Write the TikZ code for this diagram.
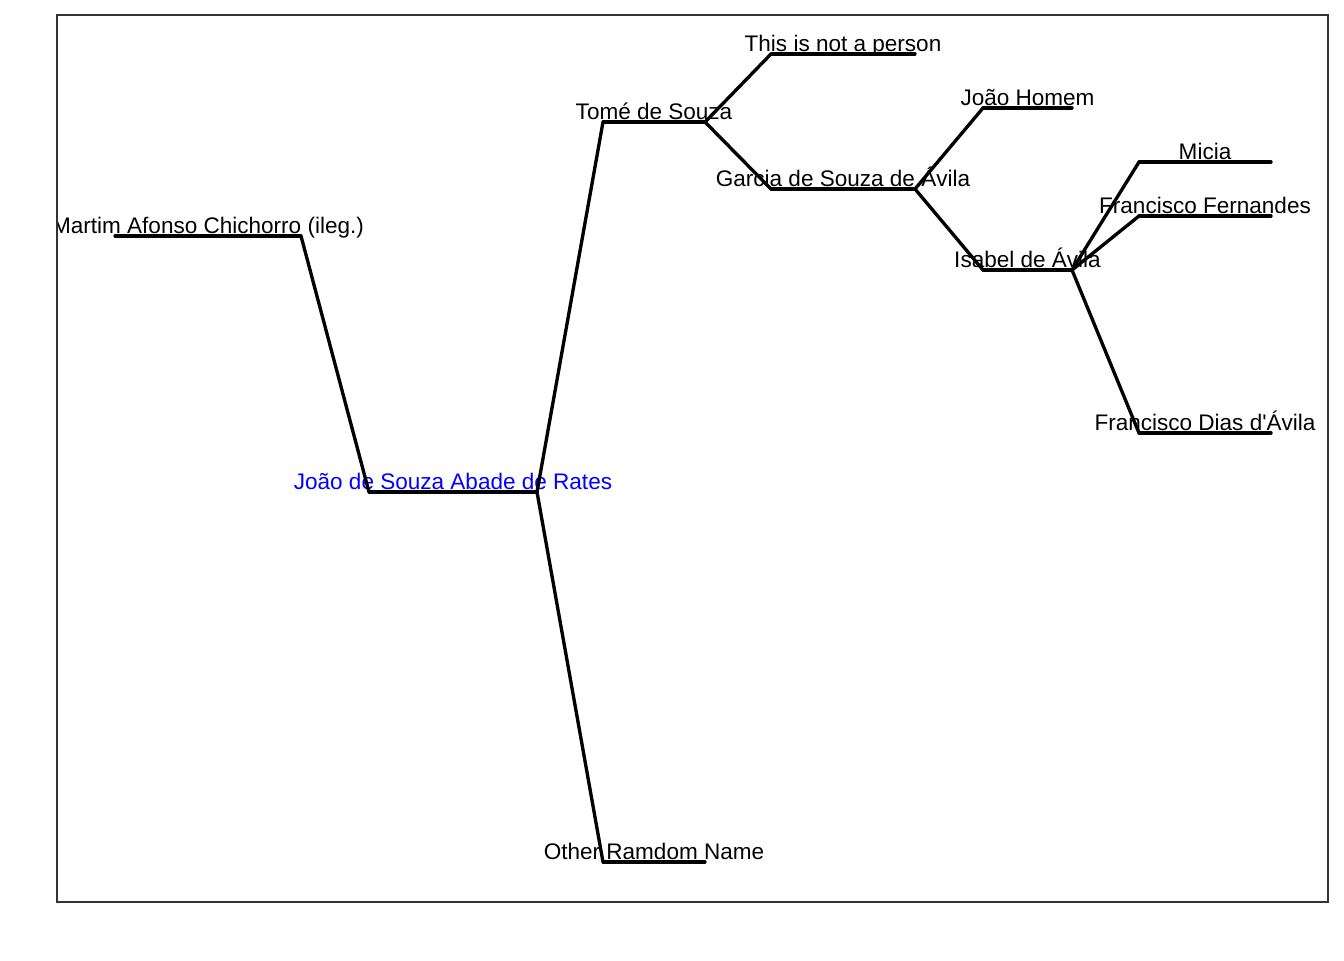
\documentclass[tikz,border=0pt]{standalone}
\usepackage{fontspec}
\setmainfont{Liberation Sans}[Ligatures=TeXOff]
\tikzset{
  bar/.style={line width=2.5pt, line cap=round},
  link/.style={line width=2.5pt},
  famlabel/.style={anchor=base, inner sep=0pt, font=\fontsize{16.9}{20}\selectfont}
}
% one member: id, left x, right x, y, label, colour
\newcommand{\member}[6]{
  \coordinate (#1L) at (#2,#4);
  \coordinate (#1R) at (#3,#4);
  \node[famlabel, text=#6] (#1) at ({(#2+#3)/2},#4-3) {#5};
  \draw[bar] (#1L) -- (#1R);
}

\begin{document}
\begin{tikzpicture}[x=0.75pt, y=-0.75pt]
  \useasboundingbox (0,0) rectangle (1344,960);
  \begin{scope}
  \clip (57,15) rectangle (1328,902);
  \member{martim}{115}{301}{236}{Martim Afonso Chichorro (ileg.)}{black}
  \member{rates}{369}{537}{492}{João de Souza Abade de Rates}{blue}
  \member{tome}{603}{705}{122}{Tomé de Souza}{black}
  \member{other}{603}{705}{862}{Other Ramdom Name}{black}
  \member{notperson}{771}{915}{54}{This is not a person}{black}
  \member{garcia}{771}{915}{189}{Garcia de Souza de Ávila}{black}
  \member{homem}{983}{1072}{108}{João Homem}{black}
  \member{isabel}{983}{1072}{270}{Isabel de Ávila}{black}
  \member{micia}{1139}{1271}{162}{Micia}{black}
  \member{fernandes}{1139}{1271}{216}{Francisco Fernandes}{black}
  \member{dias}{1139}{1271}{433}{Francisco Dias d'Ávila}{black}
  % links between generations
  \draw[link] (martimR) -- (ratesL);
  \draw[link] (ratesR) -- (tomeL);
  \draw[link] (ratesR) -- (otherL);
  \draw[link] (tomeR) -- (notpersonL);
  \draw[link] (tomeR) -- (garciaL);
  \draw[link] (garciaR) -- (homemL);
  \draw[link] (garciaR) -- (isabelL);
  \draw[link] (isabelR) -- (miciaL);
  \draw[link] (isabelR) -- (fernandesL);
  \draw[link] (isabelR) -- (diasL);
  \end{scope}
  \draw[line width=0.8pt, black!80] (57,15) rectangle (1328,902);
\end{tikzpicture}
\end{document}
